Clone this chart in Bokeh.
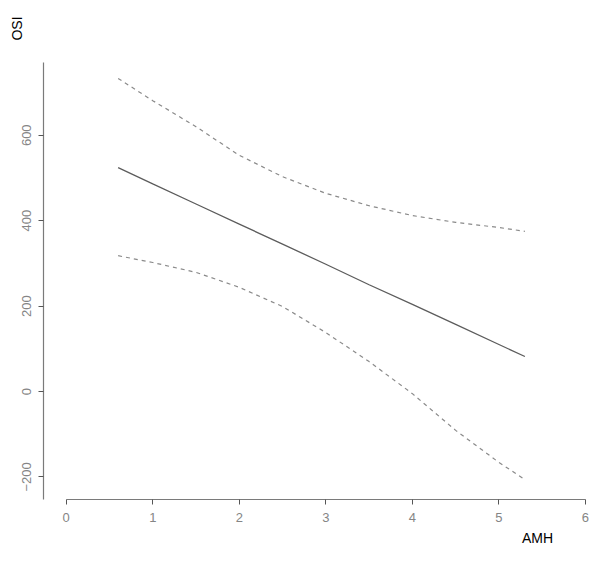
from bokeh.plotting import figure
from bokeh.models import Range1d, FixedTicker, Label
from bokeh.embed import file_html
from bokeh.resources import INLINE
import math

# Data
amh = [0.6, 1.0, 1.5, 2.0, 2.5, 3.0, 3.5, 4.0, 4.5, 5.0, 5.3]
osi_fit = [524, 486, 439, 392, 345, 298, 250, 204, 157, 110, 82]
osi_upper = [733, 681, 620, 553, 503, 464, 435, 412, 396, 384, 375]
osi_lower = [318, 302, 279, 244, 199, 138, 70, -5, -91, -166, -206]

x_ticks = [0, 1, 2, 3, 4, 5, 6]
y_ticks = [-200, 0, 200, 400, 600]

p = figure(width=592, height=554, output_backend="svg", toolbar_location=None,
           x_range=Range1d(-0.759, 6.081), y_range=Range1d(-381.6, 915.5),
           min_border=0)
p.outline_line_color = None
p.xgrid.visible = False
p.ygrid.visible = False
p.background_fill_color = "white"
p.border_fill_color = "white"

p.line(amh, osi_fit, line_color="#5c5c5c", line_width=1.3)
p.line(amh, osi_upper, line_color="#8a8a8a", line_width=1.2, line_dash="4 4")
p.line(amh, osi_lower, line_color="#8a8a8a", line_width=1.2, line_dash="4 4")

axis_col = "#7a7a7a"
lab_col = "#858585"
for ax in (p.xaxis[0], p.yaxis[0]):
    ax.axis_line_color = axis_col
    ax.axis_line_width = 1.2
    ax.major_tick_line_color = "#555555"
    ax.major_tick_out = 5
    ax.major_tick_in = 0
    ax.minor_tick_line_color = None
    ax.major_label_text_color = lab_col
    ax.major_label_text_font = "Liberation Sans"
    ax.major_label_text_font_size = "13px"

p.xaxis[0].ticker = FixedTicker(ticks=x_ticks)
p.xaxis[0].bounds = (0, 6)
p.xaxis[0].fixed_location = -252.9
p.xaxis[0].major_label_standoff = 8
p.yaxis[0].ticker = FixedTicker(ticks=y_ticks)
p.yaxis[0].bounds = (-252.9, 770)
p.yaxis[0].fixed_location = -0.2623
p.yaxis[0].major_label_orientation = "vertical"
p.yaxis[0].major_label_standoff = 7

p.add_layout(Label(x=5.445, y=-344, text="AMH",
                   text_align="center", text_baseline="middle", text_color="black",
                   text_font="Liberation Sans", text_font_size="14px"))
p.add_layout(Label(x=-0.563, y=850, text="OSI",
                   angle=math.pi / 2, text_align="center", text_baseline="middle",
                   text_color="black", text_font="Liberation Sans", text_font_size="14px"))

open("out.html", "w").write(file_html(p, INLINE))
